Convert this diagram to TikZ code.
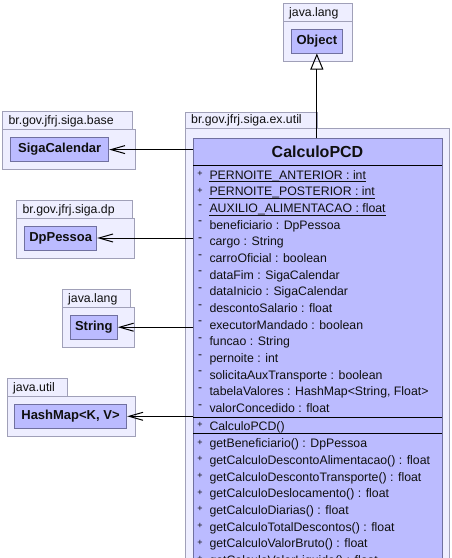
\documentclass[tikz,border=0pt]{standalone}
\usepackage{fontspec}
\setmainfont{Liberation Sans}
\usetikzlibrary{arrows.meta}
\definecolor{pkgfill}{RGB}{238,238,255}
\definecolor{pkgline}{RGB}{160,160,184}
\definecolor{clsfill}{RGB}{187,187,255}
\definecolor{clsline}{RGB}{112,112,160}
\definecolor{txt}{RGB}{16,16,16}
\tikzset{
  pkg/.style={draw=pkgline, fill=pkgfill, line width=1pt},
  cls/.style={draw=clsline, fill=clsfill, line width=1pt, inner sep=0pt,
    font=\fontsize{13}{15}\selectfont\bfseries, text=txt},
  pkglabel/.style={anchor=base west, inner sep=0pt,
    font=\fontsize{12.3}{14}\selectfont, text=txt},
  member/.style={anchor=base west, inner sep=0pt,
    font=\fontsize{12.3}{14}\selectfont, text=txt},
  plusmark/.style={anchor=base, inner sep=0pt,
    font=\fontsize{9}{10}\selectfont, text=txt},
  minusmark/.style={anchor=base, inner sep=0pt,
    font=\fontsize{12}{13}\selectfont, text=txt},
  title/.style={anchor=base, inner sep=0pt,
    font=\fontsize{16}{18}\selectfont\bfseries, text=txt},
  sepline/.style={draw=black, line width=1pt},
  uline/.style={draw=txt, line width=0.8pt},
  assoc/.style={draw=black, line width=1pt, -{Straight Barb[length=14pt,width=8pt]}},
  inh/.style={draw=black, line width=1pt, -{Triangle[open,length=16pt,width=13pt]}},
}
\begin{document}
\begin{tikzpicture}[x=1pt,y=-1pt]
\useasboundingbox (0,0) rectangle (452,558);
\clip (0,0) rectangle (452,558);
\fill[white] (0,0) rectangle (452,558);

% ---------- packages ----------
% java.lang (top)
\path[pkg] (283.3,3) rectangle (352.3,21);
\path[pkg] (283.3,21) rectangle (352.3,61.7);
\node[pkglabel] (pl1) at (289,16.5) {java.lang};
% br.gov.jfrj.siga.ex.util
\path[pkg] (185.3,112.3) rectangle (317.7,128);
\path[pkg] (185.3,128) rectangle (449.3,600);
\node[pkglabel] (pl2) at (191,123.6) {br.gov.jfrj.siga.ex.util};
% br.gov.jfrj.siga.base
\path[pkg] (2.7,111.7) rectangle (132.3,129.3);
\path[pkg] (2.7,129.3) rectangle (135.7,169.3);
\node[pkglabel] (pl3) at (8.4,124.2) {br.gov.jfrj.siga.base};
% br.gov.jfrj.siga.dp
\path[pkg] (16.7,200.3) rectangle (132.3,218.3);
\path[pkg] (16.7,218.3) rectangle (134.3,258);
\node[pkglabel] (pl4) at (22.4,213.3) {br.gov.jfrj.siga.dp};
% java.lang (left)
\path[pkg] (62.3,289.3) rectangle (130,307.3);
\path[pkg] (62.3,307.3) rectangle (134.3,347.3);
\node[pkglabel] (pl5) at (68,302.3) {java.lang};
% java.util
\path[pkg] (7.3,378.7) rectangle (67.7,396.7);
\path[pkg] (7.3,396.7) rectangle (135.7,436);
\node[pkglabel] (pl6) at (13,391.7) {java.util};

% ---------- small classes ----------
\node[cls, minimum width=51.7pt, minimum height=24pt] (obj) at (316.85,41) {Object};
\node[cls, minimum width=98pt, minimum height=23.4pt] (siga) at (59.7,149.6) {SigaCalendar};
\node[cls, minimum width=72pt, minimum height=24pt] (dp) at (60.7,238) {DpPessoa};
\node[cls, minimum width=47pt, minimum height=24.3pt] (str) at (93.8,327.2) {String};
\node[cls, minimum width=112.4pt, minimum height=24.4pt] (hm) at (70.5,416.3) {HashMap<K, V>};

% ---------- CalculoPCD ----------
\node[cls, minimum width=248.4pt, minimum height=450pt, anchor=north west] (calc) at (193.3,138) {};
\node[title] (ttl) at (317.5,157.7) {CalculoPCD};
\draw[sepline] (193.3,165) -- (441.7,165);
\draw[sepline] (193.3,417.7) -- (441.7,417.7);
\draw[sepline] (193.3,433.3) -- (441.7,433.3);

% attributes (baseline 179.2 + i*16.67)
\node[member] (a0) at (209.3,179.2) {PERNOITE\_ANTERIOR : int};
\node[member] (a1) at (209.3,195.87) {PERNOITE\_POSTERIOR : int};
\node[member] (a2) at (209.3,212.54) {AUXILIO\_ALIMENTACAO : float};
\node[member] (a3) at (209.3,229.21) {beneficiario : DpPessoa};
\node[member] (a4) at (209.3,245.88) {cargo : String};
\node[member] (a5) at (209.3,262.55) {carroOficial : boolean};
\node[member] (a6) at (209.3,279.22) {dataFim : SigaCalendar};
\node[member] (a7) at (209.3,295.89) {dataInicio : SigaCalendar};
\node[member] (a8) at (209.3,312.56) {descontoSalario : float};
\node[member] (a9) at (209.3,329.23) {executorMandado : boolean};
\node[member] (a10) at (209.3,345.9) {funcao : String};
\node[member] (a11) at (209.3,362.57) {pernoite : int};
\node[member] (a12) at (209.3,379.24) {solicitaAuxTransporte : boolean};
\node[member] (a13) at (209.3,395.91) {tabelaValores : HashMap<String, Float>};
\node[member] (a14) at (209.3,412.58) {valorConcedido : float};
\foreach \n in {a0,a1,a2}
  \draw[uline] ([yshift=-2.5pt]\n.base west) -- ([yshift=-2.5pt]\n.base east);

% constructor and methods
\node[member] (c0) at (209.3,430) {CalculoPCD()};
\node[member] (m0) at (209.3,447.7) {getBeneficiario() : DpPessoa};
\node[member] (m1) at (209.3,464.37) {getCalculoDescontoAlimentacao() : float};
\node[member] (m2) at (209.3,481.04) {getCalculoDescontoTransporte() : float};
\node[member] (m3) at (209.3,497.71) {getCalculoDeslocamento() : float};
\node[member] (m4) at (209.3,514.38) {getCalculoDiarias() : float};
\node[member] (m5) at (209.3,531.05) {getCalculoTotalDescontos() : float};
\node[member] (m6) at (209.3,547.72) {getCalculoValorBruto() : float};
\node[member] (m7) at (209.3,564.39) {getCalculoValorLiquido() : float};

% visibility marks
\foreach \n in {a0,a1,c0,m0,m1,m2,m3,m4,m5,m6,m7}
  \node[plusmark] (p\n) at ([xshift=-9.3pt,yshift=2.6pt]\n.base west) {+};
\foreach \n in {a2,a3,a4,a5,a6,a7,a8,a9,a10,a11,a12,a13,a14}
  \node[minusmark] (p\n) at ([xshift=-9.3pt,yshift=4.5pt]\n.base west) {-};

% ---------- connectors ----------
\draw[inh] (obj.south |- calc.north) -- (obj.south);
\draw[assoc] (calc.west |- siga.east) -- (siga.east);
\draw[assoc] (calc.west |- dp.east) -- (dp.east);
\draw[assoc] (calc.west |- str.east) -- (str.east);
\draw[assoc] (calc.west |- hm.east) -- (hm.east);
\end{tikzpicture}
\end{document}
